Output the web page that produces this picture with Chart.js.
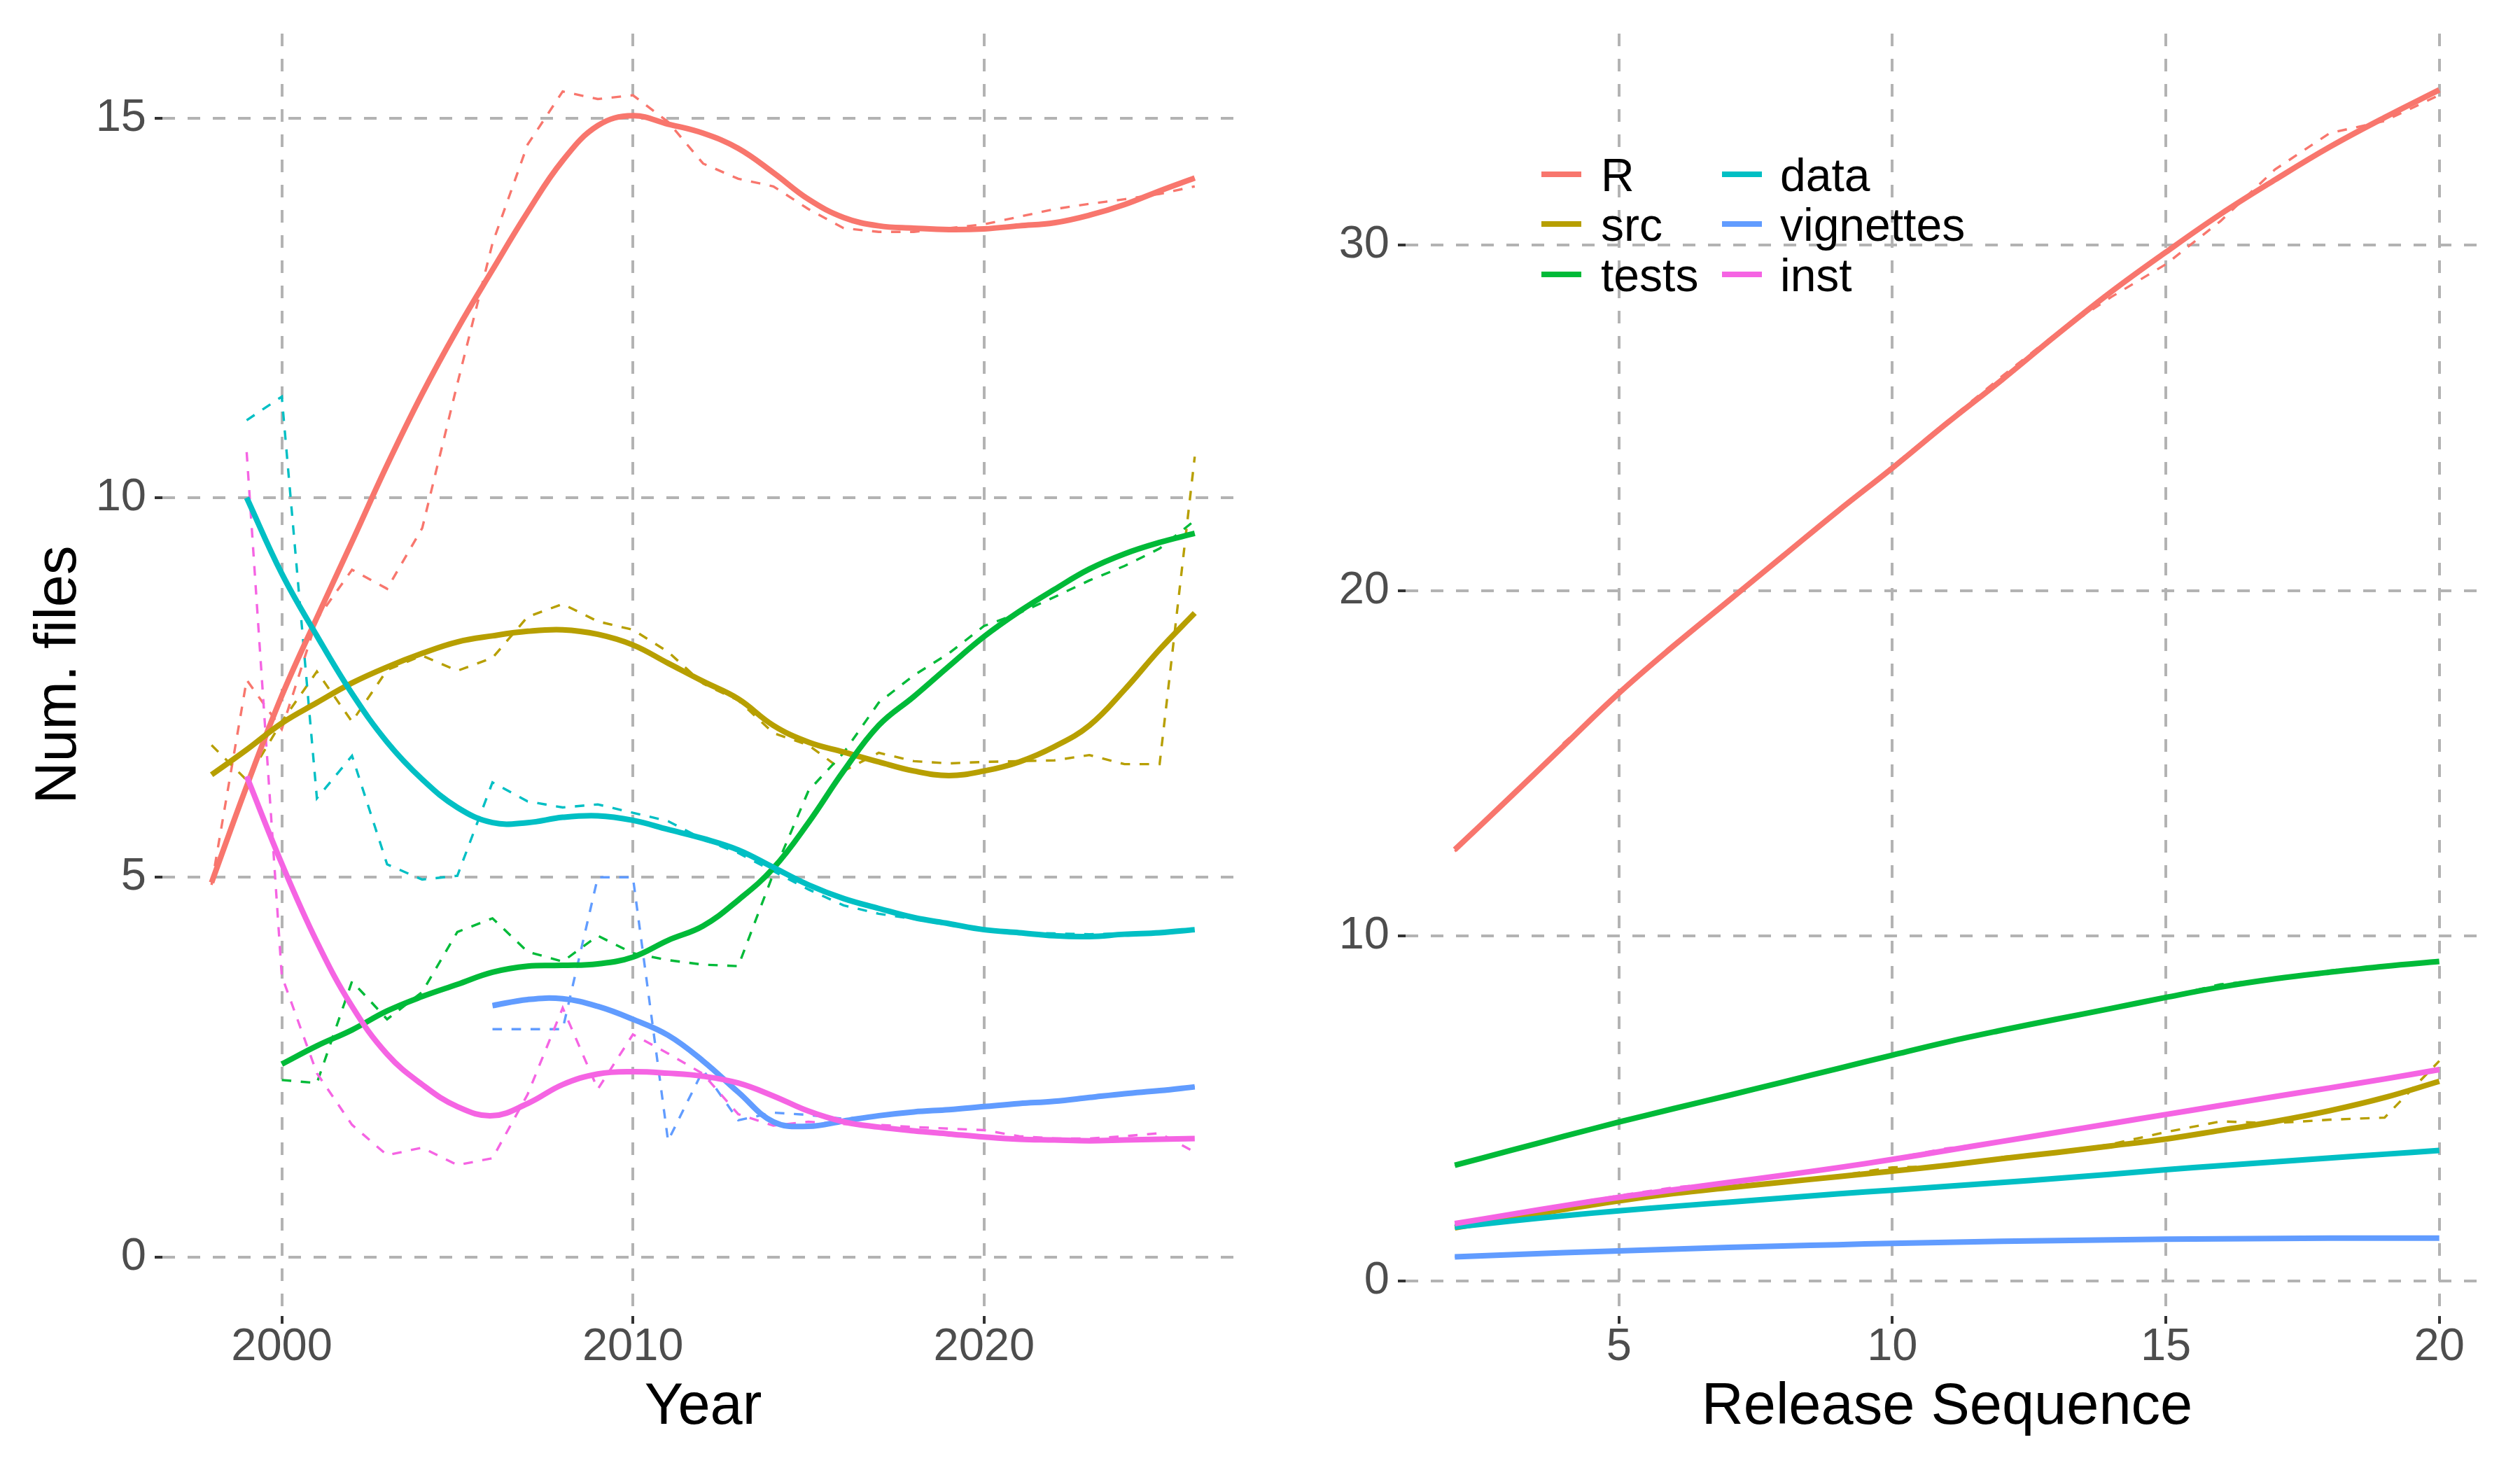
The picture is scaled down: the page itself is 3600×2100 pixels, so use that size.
<!DOCTYPE html>
<html>
<head>
<meta charset="utf-8">
<script src="https://cdn.jsdelivr.net/npm/chart.js@4.4.1/dist/chart.umd.min.js"></script>
<style>
  html, body { margin: 0; padding: 0; background: #fff; }
  body { width: 3600px; height: 2100px; position: relative; overflow: hidden;
         font-family: "Liberation Sans", Arial, Helvetica, sans-serif; }
  canvas { position: absolute; top: 0; }
  #yearChart { left: 0; }
  #releaseChart { left: 1800px; }
  .key { position: absolute; width: 57px; height: 8px; }
  .lab { position: absolute; font-size: 66px; line-height: 66px; color: #000; white-space: nowrap; }
</style>
</head>
<body>
<canvas id="yearChart" width="1800" height="2100"></canvas>
<canvas id="releaseChart" width="1800" height="2100"></canvas>
<div id="legend"></div>
<script>
var FONT = '"Liberation Sans", Arial, Helvetica, sans-serif';
var TICK_GREY = '#4D4D4D';
var GRID_GREY = '#B3B3B3';
var TICK_DARK = '#333333';

// ---- series ----
var seriesNames = ['R', 'src', 'tests', 'data', 'vignettes', 'inst'];
var seriesColors = ['#F8766D', '#B79F00', '#00BA38', '#00BFC4', '#619CFF', '#F564E3'];

// ---- left panel: by year ----
var years = [1998, 1999, 2000, 2001, 2002, 2003, 2004, 2005, 2006, 2007,
             2008, 2009, 2010, 2011, 2012, 2013, 2014, 2015, 2016, 2017,
             2018, 2019, 2020, 2021, 2022, 2023, 2024, 2025, 2026];
var yearTicks = [2000, 2010, 2020];
var yearCountTicks = [0, 5, 10, 15];

var yearRawR = [4.9, 7.6, 6.95, 8.4, 9.05, 8.8, 9.6, 11.5, 13.35, 14.65, 15.35, 15.25, 15.3, 14.95, 14.4,
                14.2, 14.1, 13.8, 13.55, 13.5, 13.5, 13.55, 13.6, 13.7, 13.8, 13.87, 13.93, 14.0, 14.1];
var yearFitR = [4.93, 6.2, 7.39, 8.42, 9.42, 10.43, 11.37, 12.22, 13.0, 13.76, 14.44, 14.9, 15.03, 14.92, 14.8,
                14.6, 14.28, 13.93, 13.69, 13.58, 13.55, 13.53, 13.54, 13.58, 13.62, 13.72, 13.86, 14.04, 14.21];

var yearRawSrc = [6.74, 6.28, 7.05, 7.71, 7.05, 7.73, 7.92, 7.72, 7.89, 8.43, 8.6, 8.37, 8.26, 7.97, 7.55,
                  7.33, 6.9, 6.74, 6.4, 6.64, 6.53, 6.5, 6.52, 6.53, 6.54, 6.61, 6.49, 6.49, 10.54];
var yearFitSrc = [6.35, 6.68, 7.03, 7.3, 7.56, 7.77, 7.95, 8.1, 8.18, 8.24, 8.26, 8.2, 8.06, 7.82, 7.58,
                  7.35, 7.0, 6.78, 6.65, 6.52, 6.4, 6.34, 6.4, 6.52, 6.72, 7.0, 7.47, 8.0, 8.48];

var yearRawTests = [null, null, 2.33, 2.29, 3.63, 3.13, 3.49, 4.28, 4.46, 4.02, 3.89, 4.23, 4.0, 3.91, 3.85,
                    3.83, 5.05, 6.14, 6.64, 7.3, 7.66, 7.95, 8.31, 8.48, 8.69, 8.91, 9.1, 9.33, 9.7];
var yearFitTests = [null, null, 2.54, 2.78, 2.99, 3.24, 3.43, 3.59, 3.75, 3.83, 3.84, 3.86, 3.95, 4.17, 4.36,
                    4.7, 5.12, 5.72, 6.4, 7.0, 7.38, 7.78, 8.17, 8.5, 8.79, 9.06, 9.26, 9.41, 9.53];

var yearRawData = [null, 11.02, 11.33, 6.04, 6.6, 5.17, 4.97, 5.02, 6.25, 6.0, 5.92, 5.96, 5.85, 5.74, 5.5,
                   5.32, 5.08, 4.84, 4.63, 4.52, 4.45, 4.37, 4.3, 4.27, 4.26, 4.25, 4.26, 4.27, 4.3];
var yearFitData = [null, 10.0, 9.0, 8.18, 7.42, 6.78, 6.29, 5.92, 5.72, 5.72, 5.79, 5.81, 5.75, 5.63, 5.51,
                   5.36, 5.13, 4.9, 4.72, 4.59, 4.47, 4.39, 4.31, 4.27, 4.23, 4.22, 4.25, 4.27, 4.31];

var yearRawVignettes = [null, null, null, null, null, null, null, null, 3.0, 3.0, 3.0, 5.0, 5.0, 1.53, 2.46,
                        1.8, 1.9, 1.87, 1.82, 1.86, 1.9, 1.93, 1.97, 2.02, 2.05, 2.1, 2.15, 2.19, 2.24];
var yearFitVignettes = [null, null, null, null, null, null, null, null, 3.31, 3.39, 3.4, 3.3, 3.13, 2.92, 2.58,
                        2.17, 1.78, 1.72, 1.79, 1.86, 1.91, 1.94, 1.98, 2.02, 2.05, 2.1, 2.15, 2.19, 2.24];

var yearRawInst = [null, 10.6, 3.7, 2.42, 1.74, 1.34, 1.44, 1.21, 1.3, 2.14, 3.28, 2.21, 2.93, 2.68, 2.41,
                   1.88, 1.73, 1.78, 1.75, 1.74, 1.71, 1.69, 1.67, 1.59, 1.56, 1.56, 1.59, 1.63, 1.38];
var yearFitInst = [null, 6.33, 5.18, 4.15, 3.3, 2.67, 2.27, 1.98, 1.86, 2.02, 2.27, 2.41, 2.44, 2.42, 2.38,
                   2.29, 2.12, 1.92, 1.78, 1.71, 1.66, 1.62, 1.58, 1.55, 1.54, 1.53, 1.54, 1.55, 1.56];

// ---- right panel: by release ----
var releases = [2, 3, 4, 5, 6, 7, 8, 9, 10, 11, 12, 13, 14, 15, 16, 17, 18, 19, 20];
var releaseTicks = [5, 10, 15, 20];
var releaseCountTicks = [0, 10, 20, 30];

var relRawR = [12.45, 13.95, 15.6, 17.0, 18.4, 19.7, 21.0, 22.3, 23.6, 24.9, 26.2, 27.45, 28.5, 29.45, 30.7,
               32.2, 33.25, 33.6, 34.35];
var relFitR = [12.5, 14.0, 15.52, 17.03, 18.4, 19.7, 21.0, 22.3, 23.55, 24.85, 26.1, 27.4, 28.65, 29.8, 30.9,
               31.9, 32.85, 33.7, 34.5];

var relRawSrc = [1.55, 1.85, 2.1, 2.4, 2.62, 2.73, 2.9, 3.05, 3.3, 3.33, 3.6, 3.72, 3.97, 4.32, 4.63,
                 4.58, 4.68, 4.74, 6.38];
var relFitSrc = [1.55, 1.82, 2.08, 2.33, 2.54, 2.71, 2.87, 3.03, 3.19, 3.36, 3.55, 3.73, 3.92, 4.12, 4.37,
                 4.63, 4.94, 5.32, 5.79];

var relRawTests = [3.36, 3.78, 4.2, 4.62, 5.01, 5.37, 5.76, 6.16, 6.55, 6.93, 7.27, 7.59, 7.9, 8.23, 8.6,
                   8.76, 9.0, 9.15, 9.26];
var relFitTests = [3.36, 3.78, 4.2, 4.61, 5.0, 5.38, 5.77, 6.16, 6.55, 6.93, 7.27, 7.59, 7.9, 8.22, 8.52,
                   8.76, 8.95, 9.12, 9.26];

var relRawData = [1.57, 1.74, 1.9, 2.04, 2.17, 2.29, 2.41, 2.53, 2.64, 2.75, 2.86, 2.98, 3.1, 3.23, 3.35,
                  3.46, 3.57, 3.68, 3.79];
var relFitData = [1.57, 1.74, 1.9, 2.04, 2.17, 2.29, 2.41, 2.53, 2.64, 2.75, 2.86, 2.98, 3.1, 3.23, 3.35,
                  3.46, 3.57, 3.68, 3.79];

var relRawVignettes = [0.71, 0.77, 0.83, 0.88, 0.93, 0.98, 1.02, 1.06, 1.1, 1.13, 1.16, 1.18, 1.2, 1.22, 1.23,
                       1.24, 1.25, 1.25, 1.25];
var relFitVignettes = [0.71, 0.77, 0.83, 0.88, 0.93, 0.98, 1.02, 1.06, 1.1, 1.13, 1.16, 1.18, 1.2, 1.22, 1.23,
                       1.24, 1.25, 1.25, 1.25];

var relRawInst = [1.67, 1.94, 2.22, 2.48, 2.72, 2.86, 3.07, 3.29, 3.56, 3.85, 4.05, 4.31, 4.57, 4.83, 5.09,
                  5.35, 5.6, 5.86, 6.13];
var relFitInst = [1.67, 1.93, 2.19, 2.43, 2.65, 2.86, 3.07, 3.29, 3.53, 3.79, 4.05, 4.31, 4.57, 4.83, 5.09,
                  5.35, 5.6, 5.86, 6.13];

// ---- helpers ----
function toPoints(xs, ys) {
  var out = [];
  xs.forEach(function (x, i) {
    if (ys[i] !== null) out.push({ x: x, y: ys[i] });
  });
  return out;
}

function buildDatasets(xs, fits, raws) {
  var sets = [];
  seriesNames.forEach(function (name, i) {
    sets.push({
      label: name + ' (smooth)',
      data: toPoints(xs, fits[i]),
      borderColor: seriesColors[i],
      borderWidth: 8,
      tension: 0.4,
      borderJoinStyle: 'round',
      pointRadius: 0,
      fill: false,
      order: 5 - i
    });
    sets.push({
      label: name,
      data: toPoints(xs, raws[i]),
      borderColor: seriesColors[i],
      borderWidth: 3.4,
      borderDash: [13.6, 13.6],
      tension: 0,
      pointRadius: 0,
      fill: false,
      order: 20 - i
    });
  });
  return sets;
}

function tickList(list) {
  return function (scale) {
    scale.ticks = list.map(function (v) { return { value: v }; });
  };
}

function buildScales(o) {
  var gridOpts = { color: GRID_GREY, lineWidth: 4, tickColor: TICK_DARK, tickLength: 11, tickWidth: 4 };
  var borderOpts = { display: false, dash: [18, 18] };
  return {
    x: {
      type: 'linear',
      position: 'bottom',
      min: o.xMin,
      max: o.xMax,
      afterBuildTicks: tickList(o.xTicks),
      afterFit: function (s) { s.height = 220; },
      ticks: {
        callback: function (v) { return String(v); },
        color: TICK_GREY,
        font: { family: FONT, size: 65, lineHeight: 1 },
        padding: 2,
        maxRotation: 0,
        autoSkip: false
      },
      grid: gridOpts,
      border: borderOpts,
      title: {
        display: true,
        text: o.xTitle,
        color: '#000',
        font: { family: FONT, size: 83, lineHeight: 1 },
        padding: { top: 0, bottom: 47 }
      }
    },
    y: {
      type: 'linear',
      position: 'left',
      min: o.yMin,
      max: o.yMax,
      afterBuildTicks: tickList(o.yTicks),
      afterFit: function (s) { s.width = o.yWidth; },
      ticks: {
        callback: function (v) { return String(v); },
        color: TICK_GREY,
        font: { family: FONT, size: 65, lineHeight: 1 },
        padding: 12,
        autoSkip: false
      },
      grid: gridOpts,
      border: borderOpts,
      title: {
        display: !!o.yTitle,
        text: o.yTitle || '',
        color: '#000',
        font: { family: FONT, size: 83, lineHeight: 1 },
        padding: { top: 44, bottom: 0 }
      }
    }
  };
}

function makeChart(id, xs, fits, raws, o) {
  return new Chart(document.getElementById(id), {
    type: 'line',
    data: { datasets: buildDatasets(xs, fits, raws) },
    options: {
      responsive: false,
      animation: false,
      devicePixelRatio: 1,
      layout: { padding: { left: 0, top: 48, right: o.padRight, bottom: 0 } },
      plugins: { legend: { display: false }, tooltip: { enabled: false } },
      scales: buildScales(o)
    }
  });
}

// ---- charts ----
makeChart('yearChart', years,
  [yearFitR, yearFitSrc, yearFitTests, yearFitData, yearFitVignettes, yearFitInst],
  [yearRawR, yearRawSrc, yearRawTests, yearRawData, yearRawVignettes, yearRawInst],
  { xMin: 1996.6, xMax: 2027.4, xTicks: yearTicks, xTitle: 'Year',
    yMin: -0.778, yMax: 16.112, yTicks: yearCountTicks, yTitle: 'Num. files',
    yWidth: 232, padRight: 23 });

makeChart('releaseChart', releases,
  [relFitR, relFitSrc, relFitTests, relFitData, relFitVignettes, relFitInst],
  [relRawR, relRawSrc, relRawTests, relRawData, relRawVignettes, relRawInst],
  { xMin: 1.1, xMax: 20.9, xTicks: releaseTicks, xTitle: 'Release Sequence',
    yMin: -1.005, yMax: 36.13, yTicks: releaseCountTicks, yTitle: null,
    yWidth: 208, padRight: 45 });

// ---- legend (inside right panel, two columns) ----
var legend = document.getElementById('legend');
var legendRows = [249, 320, 392];
var legendKeyX = [2202, 2460];
var legendTextX = [2287, 2543];
seriesNames.forEach(function (name, i) {
  var col = Math.floor(i / 3), row = i % 3;
  var key = document.createElement('div');
  key.className = 'key';
  key.style.left = legendKeyX[col] + 'px';
  key.style.top = (legendRows[row] - 4) + 'px';
  key.style.background = seriesColors[i];
  legend.appendChild(key);
  var lab = document.createElement('div');
  lab.className = 'lab';
  lab.style.left = legendTextX[col] + 'px';
  lab.style.top = (legendRows[row] - 32) + 'px';
  lab.textContent = name;
  legend.appendChild(lab);
});
</script>
</body>
</html>
